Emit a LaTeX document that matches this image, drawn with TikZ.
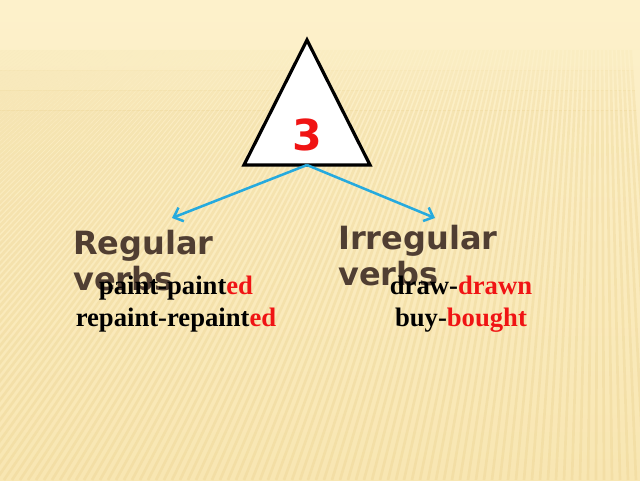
\documentclass[tikz,border=0pt]{standalone}
\usepackage{fontspec}
\setmainfont{Liberation Serif}
\newfontfamily\headfont{DejaVu Sans}
\usetikzlibrary{arrows.meta}
\definecolor{paper}{RGB}{253,241,203}
\definecolor{paperdark}{RGB}{248,230,178}
\definecolor{stripe}{RGB}{232,205,135}
\definecolor{headbrown}{RGB}{80,62,50}
\definecolor{pointerblue}{RGB}{38,170,222}
\definecolor{suffixred}{RGB}{240,20,20}
\newcommand{\suffix}[1]{\textcolor{suffixred}{#1}}
\tikzset{
  heading/.style={anchor=base west,align=left,text=headbrown,inner sep=0pt,
    font=\headfont\bfseries\fontsize{24}{27}\selectfont},
  verbpair/.style={anchor=base,align=center,inner sep=0pt,
    font=\bfseries\fontsize{20}{24}\selectfont},
  pointer/.style={pointerblue,line width=1.9pt,-{Straight Barb[length=6pt,width=11pt]}}
}
\begin{document}
\begin{tikzpicture}[x=0.75pt,y=-0.75pt]
\useasboundingbox (0,0) rectangle (640,480);
\shade [top color=paper,bottom color=paperdark] (0,0) rectangle (640,480);
% stripes, fainter near the top
\foreach \ytop/\ybot/\op in {50/70/0.08,70/90/0.16,90/110/0.24,110/480/0.3}{
  \begin{scope}
  \clip (0,\ytop) rectangle (640,\ybot);
  \foreach \x in {-700,-692,...,660}
    \draw [stripe,line width=2pt,opacity=\op] (\x,480) -- (0.5*\x+300,40);
  \end{scope}
}

% triangle
\draw [line width=2.4pt,fill=white,line join=miter] (307,40) -- (370,165) -- (244,165) -- cycle;
\node (three) [font=\headfont\bfseries\fontsize{32}{32}\selectfont,text=suffixred] at (307,135) {3};
\coordinate (base) at (307,165);
\coordinate (regtip) at (172,218);
\coordinate (irrtip) at (435,218);

\draw [pointer] (base) -- (regtip);
\draw [pointer] (base) -- (irrtip);

\node (regular) [heading] at (73,290) {Regular\\verbs};
\node (irregular) [heading] at (338,285) {Irregular\\verbs};

\node (regpairs) [verbpair] at (176,326) {paint-paint\suffix{ed}\\repaint-repaint\suffix{ed}};
\node (irrpairs) [verbpair] at (461,326) {draw-\suffix{drawn}\\buy-\suffix{bought}};
\end{tikzpicture}
\end{document}
